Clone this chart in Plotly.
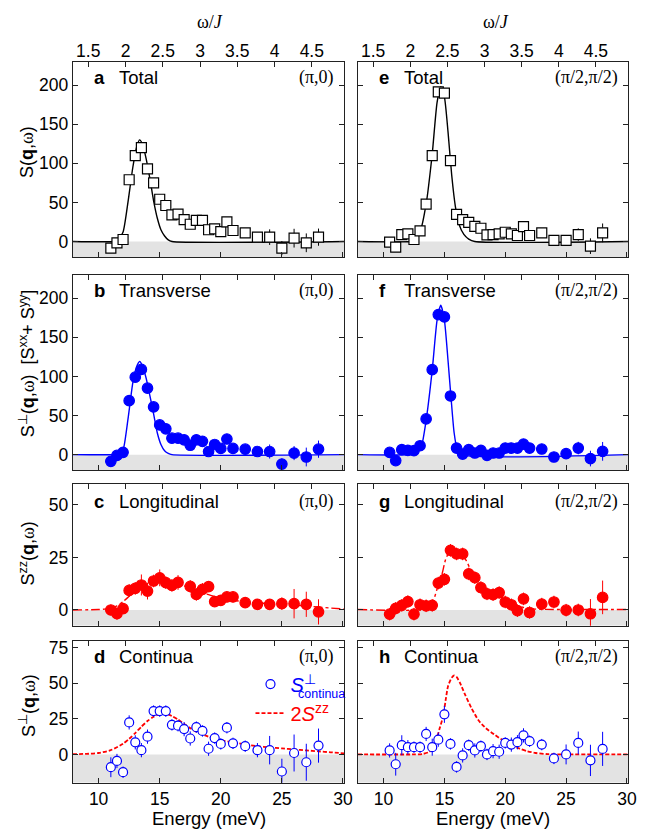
import plotly.graph_objects as go

# ---------------- data ----------------
J = 6.1  # meV, exchange used for the top omega/J axis
omega_ticks = [1.5, 2, 2.5, 3, 3.5, 4, 4.5]
omega_ticklabels = ["1.5", "2", "2.5", "3", "3.5", "4", "4.5"]
energy_ticks = [10, 15, 20, 25, 30]
x_range = [7.9, 30.1]

E_left = [11, 11.5, 12, 12.5, 13, 13.5, 14, 14.5, 15, 15.5, 16, 16.5, 17, 17.5,
          18, 18.5, 19, 19.5, 20, 20.5, 21, 22, 23, 24, 25, 26, 27, 28]
E_left_long = [11, 11.5, 12, 12.5, 13, 13.5, 14, 14.5, 15, 15.5, 16, 16.5, 17.5,
               18, 18.5, 19, 19.5, 20, 20.5, 21, 22, 23, 24, 25, 26, 27, 28]
E_right = [10.5, 11, 11.5, 12, 12.5, 13, 13.5, 14, 14.5, 15, 15.5, 16, 16.5, 17,
           17.5, 18, 18.5, 19, 19.5, 20, 20.5, 21, 21.5, 22, 23, 24, 25, 26, 27, 28]

# (pi,0)
total_pi0 = [-8.5, -1.7, 2.5, 79, 110, 120, 93, 75, 54, 46, 34, 35, 28, 22, 27, 27,
             15, 16, 12.7, 25, 14, 11, 5.5, 5.5, -8.5, 4.2, -1.7, 5.5]
total_pi0_err = [3, 3, 3, 4, 4, 4, 4, 4, 3, 3, 3, 3, 3, 3, 3, 3, 3, 3, 3, 3, 3,
                 4, 4, 10, 9, 12, 12, 11]
trans_pi0 = [-8.5, -1, 3, 69, 99, 109, 85, 61, 38, 33, 21, 21, 19, 12, 19, 17,
             4, 13, 8, 20, 8, 7, 4, 4, -12, 2, -3, 7]
trans_pi0_err = [3, 3, 3, 3, 4, 4, 4, 3, 3, 3, 3, 3, 3, 3, 3, 3, 3, 3, 3, 3, 3,
                 4, 4, 9, 7, 9, 12, 11]
long_pi0 = [0, -1.7, 0.6, 9.3, 10.3, 11.9, 9.0, 13.8, 15.3, 13.0, 11.7, 13.1, 11.2,
            7.4, 9.8, 11.1, 4.0, 4.6, 6.2, 6.2, 3.5, 2.7, 2.7, 3.0, 3.0, 2.7, -0.9]
long_pi0_err = [2.5, 3, 2.5, 3, 3, 5, 4, 3, 4, 3, 3, 3.5, 3, 3, 3, 2.5, 2.5, 2.5,
                2.5, 2.5, 2.5, 2.5, 2.5, 3, 7, 6, 6]
cont_pi0 = [-9.0, -4.6, -12.5, 22.5, 8.5, 3.0, 12.5, 30.5, 30.5, 30.5, 20.8, 20.2,
            17.8, 11.2, 19.2, 16.5, 4.0, 11.5, 7.4, 18.8, 7.8, 5.8, 3.0, 3.0, -12,
            1.0, -5.5, 6.2]
cont_pi0_err = [7, 5, 4, 5, 5, 5, 5, 4, 4, 4, 4, 4, 5, 5, 4, 4, 5, 4, 4, 4, 4,
                4, 5, 10, 9, 13, 13, 12]

# (pi/2,pi/2)
total_pp = [-0.9, -7.2, 8.8, 9.7, 2.5, 13.5, 47.7, 110, 191.6, 190, 103.6, 34.6,
            27.9, 24.5, 19.4, 16.9, 8.4, 8.8, 9.7, 11.8, 9.7, 7.6, 19, 7.6, 11,
            1.3, 1.3, 8.8, -6, 11]
total_pp_err = [4, 5, 5, 5, 4, 3, 3, 4, 4, 4, 4, 3, 3, 3, 3, 3, 3, 3, 3, 3, 3,
                3, 3, 3, 4, 4, 5, 8, 10, 12]
trans_pp = [2.9, -7.6, 6.3, 5.5, 5.1, 11.4, 45.7, 108.6, 179, 176, 75, 8.4, 0.8,
            6.3, 2.1, 5.5, -0.8, 2.1, 2.1, 8.4, 8.4, 8.4, 13.5, 8.4, 7.2, -3,
            1.3, 8.4, -5, 4.2]
trans_pp_err = [5, 4, 4, 4, 3, 3, 3, 4, 4, 4, 4, 3, 3, 3, 3, 3, 3, 3, 3, 3, 3,
                3, 3, 3, 4, 4, 5, 8, 10, 12]
long_pp = [-2.0, 0.8, 2.2, 4.0, -2.0, 2.5, 2.0, 2.2, 12.8, 14.6, 28.4, 26.7, 26.7,
           17.2, 15.4, 10.7, 7.7, 7.3, 8.3, 3.8, 2.5, -0.3, 5.3, -1.2, 2.8, 3.8,
           -0.1, 0.0, -1.8, 6.0]
long_pp_err = [3, 3, 3, 3, 3, 3, 3, 3, 3, 3, 3, 3, 3, 3, 3, 3, 3, 3, 3, 3, 3,
               3, 3, 3, 3, 3, 3, 3, 7, 8]
cont_pp = [2.8, -6.9, 6.5, 5.1, 5.1, 5.1, 14.4, 5.1, 10.4, 28.2, 7.4, -8.8, -0.7,
           6.5, 2.8, 5.8, 0.0, 2.3, 1.9, 8.1, 6.9, 8.6, 13.4, 9.3, 6.9, -2.8,
           0.0, 8.1, -4.2, 3.9]
cont_pp_err = [5, 8, 7, 5, 4, 4, 5, 6, 5, 6, 4, 4, 5, 4, 5, 4, 4, 5, 5, 4, 5,
               5, 5, 4, 4, 4, 7, 8, 11, 12]

# model / fit curves
fit_a_E = [7.9, 11.2, 11.6, 12.0, 12.4, 12.8, 13.1, 13.35, 13.6, 13.9, 14.2, 14.5,
           14.8, 15.1, 15.4, 15.7, 16.0, 30.1]
fit_a_S = [0, 0, 2, 12, 50, 95, 120, 130, 124, 105, 80, 52, 30, 15, 7, 2, 0, 0]
fit_b_E = [7.9, 11.3, 11.7, 12.0, 12.4, 12.8, 13.1, 13.36, 13.6, 13.9, 14.2, 14.5,
           14.8, 15.1, 15.4, 15.7, 16.0, 30.1]
fit_b_S = [0, 0, 1, 6, 45, 92, 112, 119, 113, 97, 75, 52, 28, 13, 5, 1.5, 0, 0]
fit_c_E = [7.9, 10.0, 11.0, 11.5, 12.0, 12.5, 13.0, 13.5, 14.0, 14.5, 15.0, 15.5,
           16.0, 16.5, 17.0, 17.5, 18.0, 18.5, 19.0, 19.5, 20.0, 21.0, 22.0, 23.0,
           24.0, 25.0, 26.0, 27.0, 28.0, 29.0, 30.1]
fit_c_S = [0, 0.2, 0.8, 2, 4, 6.5, 9, 11, 12.5, 13.5, 14, 13.8, 13.2, 12.4, 11.5,
           10.5, 9.4, 8.3, 7.3, 6.4, 5.6, 4.6, 3.9, 3.4, 3.0, 2.7, 2.3, 1.9, 1.4,
           0.9, 0.5]
fit_d_E = [7.9, 9, 10, 11, 12, 12.5, 13, 13.5, 14, 14.5, 15, 15.4, 16, 16.5, 17,
           17.5, 18, 19, 20, 21, 22, 23, 24, 25, 26, 27, 28, 29, 30.1]
fit_d_S = [0.2, 0.4, 1, 3, 7.5, 11, 15, 19.5, 23.5, 26.5, 28.3, 28.8, 27, 24.5,
           21.5, 18.5, 16, 12.5, 10, 8.5, 7, 5.8, 5, 4.2, 3.5, 2.8, 2.2, 1.5, 0.8]
fit_e_E = [7.9, 12.2, 12.6, 13.0, 13.5, 14.0, 14.4, 14.7, 15.0, 15.3, 15.6, 15.9,
           16.2, 16.6, 17.0, 17.5, 30.1]
fit_e_S = [0, 0, 2, 12, 48, 112, 178, 198, 185, 140, 85, 45, 22, 9, 3, 0, 0]
fit_f_E = [7.9, 12.3, 12.7, 13.1, 13.5, 14.0, 14.4, 14.7, 15.0, 15.3, 15.55, 15.8,
           16.05, 16.4, 30.1]
fit_f_S = [0, 0, 2, 10, 44, 108, 172, 191, 172, 120, 72, 28, 7, 0, 0]
fit_g_E = [7.9, 13.6, 14.0, 14.4, 14.8, 15.1, 15.45, 15.9, 16.4, 16.8, 17.2, 17.6,
           18.0, 18.5, 19.0, 19.5, 20.0, 20.5, 21.0, 21.5, 22.0, 23.0, 30.1]
fit_g_S = [0.2, 0.5, 3, 10, 17, 24, 28, 27.5, 26.5, 23.5, 18.5, 15, 11.5, 8.5, 7.5,
           6.8, 4.8, 3.2, 2, 1.2, 0.6, 0.3, 0.2]
fit_h_E = [7.9, 12.5, 13.2, 13.7, 14.0, 14.3, 14.6, 14.9, 15.1, 15.3, 15.6, 15.8,
           16.0, 16.3, 16.7, 17.2, 17.8, 18.4, 19.1, 19.8, 20.5, 21.2, 21.8, 22.5,
           23.5, 30.1]
fit_h_S = [0, 0, 0.3, 1.5, 3.5, 9, 18, 27, 38, 48, 54, 55.5, 54.5, 50, 42, 33, 24,
           18.5, 14, 10, 6.5, 4, 2.3, 1, 0.2, 0]

panel_letters = ["a", "b", "c", "d", "e", "f", "g", "h"]
panel_names = ["Total", "Transverse", "Longitudinal", "Continua"] * 2
q_labels = ["(π,0)"] * 4 + ["(π/2,π/2)"] * 4

# ---------------- styling / layout ----------------
W, H = 650, 829
SANS = "Liberation Sans, Arial, sans-serif"
SERIF = "Liberation Serif, Times New Roman, serif"
BLUE = "#0000ff"
RED = "#ff0000"
BLACK = "#000000"
FRAME = "#222222"
GREY = "#e3e3e3"


def fx(px):
    return px / W


def fy(py):
    return 1 - py / H


COLS = [(74, 349), (363, 637)]
ROWS = [(59, 255), (272.7, 469), (482.7, 625), (640, 782.7)]
Y_RANGES = [[-20, 230], [-20, 230], [-7.5, 60], [-20, 80]]
Y_TICKS = [[0, 50, 100, 150, 200], [0, 50, 100, 150, 200], [0, 25, 50], [0, 25, 50, 75]]

data_sets = [
    (E_left, total_pi0, total_pi0_err, fit_a_E, fit_a_S),
    (E_left, trans_pi0, trans_pi0_err, fit_b_E, fit_b_S),
    (E_left_long, long_pi0, long_pi0_err, fit_c_E, fit_c_S),
    (E_left, cont_pi0, cont_pi0_err, fit_d_E, fit_d_S),
    (E_right, total_pp, total_pp_err, fit_e_E, fit_e_S),
    (E_right, trans_pp, trans_pp_err, fit_f_E, fit_f_S),
    (E_right, long_pp, long_pp_err, fit_g_E, fit_g_S),
    (E_right, cont_pp, cont_pp_err, fit_h_E, fit_h_S),
]

row_styles = [
    dict(symbol="square", fill="white", mline=BLACK, size=10, ecol=BLACK,
         fcol=BLACK, dash="solid", fw=1.4),
    dict(symbol="circle", fill=BLUE, mline=BLUE, size=10.5, ecol=BLUE,
         fcol=BLUE, dash="solid", fw=1.4),
    dict(symbol="circle", fill=RED, mline=RED, size=10.5, ecol=RED,
         fcol=RED, dash="dashdot", fw=1.4),
    dict(symbol="circle", fill="white", mline=BLUE, size=9, ecol=BLUE,
         fcol=RED, dash="4px,2px", fw=1.8),
]

fig = go.Figure()
shapes = []
annotations = []
layout_axes = {}

for i in range(8):
    n = i + 1
    col = 0 if i < 4 else 1
    row = i % 4
    xn = "x" if n == 1 else f"x{n}"
    yn = "y" if n == 1 else f"y{n}"
    xkey = "xaxis" if n == 1 else f"xaxis{n}"
    ykey = "yaxis" if n == 1 else f"yaxis{n}"
    st = row_styles[row]
    E, S, err, fE, fS = data_sets[i]

    is_leg = (i == 3)
    fig.add_trace(go.Scatter(
        x=fE, y=fS, mode="lines", xaxis=xn, yaxis=yn,
        line=dict(color=st["fcol"], width=st["fw"], dash=st["dash"],
                  shape="spline", smoothing=0.6),
        name=f"<span style='color:{RED}'>2<i>S</i><sup>zz</sup></span>",
        showlegend=is_leg, legendrank=2, hoverinfo="skip"))
    fig.add_trace(go.Scatter(
        x=E, y=S, mode="markers", xaxis=xn, yaxis=yn,
        marker=dict(symbol=st["symbol"], size=st["size"], color=st["fill"],
                    line=dict(color=st["mline"], width=1.2)),
        error_y=dict(type="data", array=err, visible=True, width=0,
                     thickness=1, color=st["ecol"]),
        name=f"<span style='color:{BLUE}'><i>S</i><sup>⊥</sup></span>",
        showlegend=is_leg, legendrank=1))
    # empty trace so that the top (omega/J) axis of this panel is drawn
    tn = f"x{n + 8}"
    fig.add_trace(go.Scatter(x=[None], y=[None], xaxis=tn, yaxis=yn,
                             mode="markers", showlegend=False, hoverinfo="skip"))

    x0, x1 = COLS[col]
    top, bot = ROWS[row]
    tickfont = dict(family=SANS, size=17.5, color=BLACK)
    layout_axes[xkey] = dict(
        domain=[fx(x0), fx(x1)], range=x_range, anchor=yn,
        showline=True, linecolor=FRAME, linewidth=1.3, mirror=True,
        ticks="inside", ticklen=5, tickwidth=1.2, tickcolor=FRAME,
        tickvals=energy_ticks, showticklabels=(row == 3), tickfont=tickfont,
        showgrid=False, zeroline=False)
    layout_axes[ykey] = dict(
        domain=[fy(bot), fy(top)], range=Y_RANGES[row], anchor=xn,
        showline=True, linecolor=FRAME, linewidth=1.3, mirror="ticks",
        ticks="inside", ticklen=5, tickwidth=1.2, tickcolor=FRAME,
        tickvals=Y_TICKS[row], showticklabels=(col == 0), tickfont=tickfont,
        showgrid=False, zeroline=False)
    tkey = f"xaxis{n + 8}"
    layout_axes[tkey] = dict(
        overlaying=xn, side="top", anchor=yn, range=x_range,
        tickvals=[w * J for w in omega_ticks], ticktext=omega_ticklabels,
        showticklabels=(row == 0), tickfont=tickfont,
        ticks="inside", ticklen=5, tickwidth=1.2, tickcolor=FRAME,
        showline=False, showgrid=False, zeroline=False)

    shapes.append(dict(type="rect", xref=f"{xn} domain", yref=yn, x0=0, x1=1,
                       y0=Y_RANGES[row][0], y1=0, fillcolor=GREY,
                       line=dict(width=0), layer="below"))

    ylab = top + 16 if row != 2 else top + 18
    annotations.append(dict(xref="paper", yref="paper", x=fx(x0 + 19), y=fy(ylab),
                            xanchor="left", yanchor="middle", showarrow=False,
                            text=f"<b>{panel_letters[i]}</b>",
                            font=dict(family=SANS, size=18.5, color=BLACK)))
    annotations.append(dict(xref="paper", yref="paper", x=fx(x0 + 45), y=fy(ylab),
                            xanchor="left", yanchor="middle", showarrow=False,
                            text=panel_names[i],
                            font=dict(family=SANS, size=18.5, color=BLACK)))
    annotations.append(dict(xref="paper", yref="paper", x=fx(x1 - 8), y=fy(ylab),
                            xanchor="right", yanchor="middle", showarrow=False,
                            text=q_labels[i],
                            font=dict(family=SERIF, size=18, color=BLACK)))

# subscript of the legend entry S^perp_continua
annotations.append(dict(xref="paper", yref="paper", x=fx(300), y=fy(694),
                        xanchor="left", yanchor="middle", showarrow=False,
                        text="continua",
                        font=dict(family=SANS, size=12.5, color=BLUE)))

W_SER = "<span style='font-family:Liberation Serif'>ω</span>"
ytitles = [
    (150, f"S(<b>q</b>,{W_SER})"),
    (362, f"S<sup>⊥</sup>(<b>q</b>,{W_SER})  [S<sup>xx</sup>+ S<sup>yy</sup>]"),
    (553, f"S<sup>zz</sup>(<b>q</b>,{W_SER})"),
    (705, f"S<sup>⊥</sup>(<b>q</b>,{W_SER})"),
]
for yc, txt in ytitles:
    annotations.append(dict(xref="paper", yref="paper", x=fx(28), y=fy(yc),
                            xanchor="center", yanchor="middle", showarrow=False,
                            textangle=-90, text=txt,
                            font=dict(family=SANS, size=18, color=BLACK)))

for xc in (213, 503):
    annotations.append(dict(xref="paper", yref="paper", x=fx(xc), y=fy(19),
                            xanchor="center", yanchor="middle", showarrow=False,
                            text="ω/<i>J</i>",
                            font=dict(family=SERIF, size=18, color=BLACK)))
for xc in (212, 500):
    annotations.append(dict(xref="paper", yref="paper", x=fx(xc), y=fy(818),
                            xanchor="center", yanchor="middle", showarrow=False,
                            text="Energy (meV)",
                            font=dict(family=SANS, size=18.5, color=BLACK)))

fig.update_layout(
    width=W, height=H,
    margin=dict(l=0, r=0, t=0, b=0),
    paper_bgcolor="white", plot_bgcolor="white",
    shapes=shapes, annotations=annotations,
    legend=dict(x=fx(254), y=fy(664), xanchor="left", yanchor="top",
                bgcolor="rgba(0,0,0,0)", itemwidth=30, tracegroupgap=0,
                font=dict(family=SANS, size=20, color=BLACK)),
    font=dict(family=SANS, color=BLACK),
    **layout_axes,
)

fig.write_html(
    "out.html",
    config={"displayModeBar": False},
    post_script="document.body.style.margin='0';document.body.style.overflow='hidden';",
)
